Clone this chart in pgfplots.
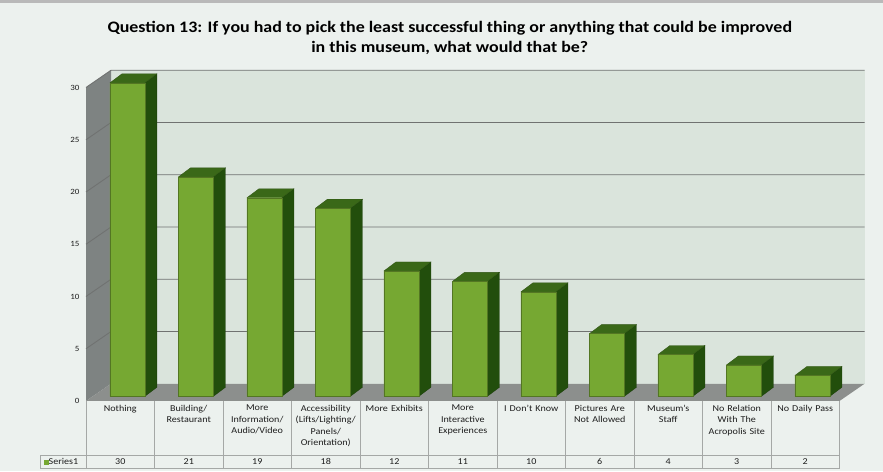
\documentclass[border=0pt]{standalone}
\usepackage{pgfplots}
\pgfplotsset{compat=1.18}
\usepackage{pgfplotstable}
\usepackage{fontspec}
\setmainfont{Carlito}[FakeStretch=1.12]
\definecolor{bg}{RGB}{236,241,238}
\definecolor{wall}{RGB}{218,228,220}
\definecolor{sidewall}{RGB}{126,131,130}
\definecolor{floorc}{RGB}{140,143,141}
\definecolor{gridc}{RGB}{112,114,113}
\definecolor{barfront}{RGB}{118,168,50}
\definecolor{bartop}{RGB}{58,104,24}
\definecolor{barside}{RGB}{34,78,12}
\definecolor{tablec}{RGB}{165,168,166}
\definecolor{txt}{RGB}{30,30,30}

\pgfplotstableread{
i v
0 30
1 21
2 19
3 18
4 12
5 11
6 10
7 6
8 4
9 3
10 2
}\datatable

\begin{document}
\begin{tikzpicture}
\begin{axis}[
  x=68.5pt, y=10.45pt,
  xmin=-0.5, xmax=10.5, ymin=0, ymax=30,
  clip=false,
  axis on top=true,
  axis line style={draw=none},
  tick style={draw=none},
  ytick={0,5,10,15,20,25,30},
  xtick={0,1,2,3,4,5,6,7,8,9,10},
  xticklabels={{Nothing},{Building/\\Restaurant},{More\\Information/\\Audio/Video},{Accessibility\\(Lifts/Lighting/\\Panels/\\Orientation)},{More Exhibits},{More\\Interactive\\Experiences},{I Don't Know},{Pictures Are\\Not Allowed},{Museum's\\Staff},{No Relation\\With The\\Acropolis Site},{No Daily Pass}},
  xticklabel style={text width=66pt, align=center, anchor=north, inner sep=0pt, yshift=-4pt, font=\fontsize{9}{11.3}\selectfont, text=txt},
  yticklabel style={font=\fontsize{8}{9}\selectfont, text=txt, xshift=-3pt},
  /pgf/number format/assume math mode=true,
]
% page background
\addplot[fill=bg, draw=none] coordinates {(-1.7555,-6.699) (11.135,-6.699) (11.135,38.373) (-1.7555,38.373)};
\addplot[fill=gray!55, draw=none] coordinates {(-1.7555,38.07) (11.135,38.07) (11.135,38.373) (-1.7555,38.373)};
% walls and floor
\addplot[fill=wall, draw=none] coordinates {(-0.135,1.65) (10.865,1.65) (10.865,31.65) (-0.135,31.65)};
\addplot[fill=sidewall, draw=none] coordinates {(-0.5,0) (-0.135,1.65) (-0.135,31.65) (-0.5,30)};
\addplot[fill=floorc, draw=none] coordinates {(-0.5,0) (10.5,0) (10.865,1.65) (-0.135,1.65)};
% gridlines
\pgfplotsinvokeforeach{5,10,15,20,25,30}{
  \pgfmathsetmacro\yb{#1+1.65}
  \edef\tmp{\noexpand\addplot[gridc, line width=0.9pt] coordinates {(-0.5,#1) (-0.135,\yb) (10.865,\yb)};}\tmp
}
% bars
\pgfplotsinvokeforeach{0,1,2,3,4,5,6,7,8,9,10}{
  \pgfplotstablegetelem{#1}{v}\of\datatable
  \let\val\pgfplotsretval
  \pgfmathsetmacro\xl{#1-0.15}
  \pgfmathsetmacro\xr{#1+0.36}
  \pgfmathsetmacro\xlb{#1-0.15+0.175}
  \pgfmathsetmacro\xrb{#1+0.36+0.175}
  \pgfmathsetmacro\yb{0.45}
  \pgfmathsetmacro\yt{\val+0.45}
  \pgfmathsetmacro\ybb{0.45+0.86}
  \pgfmathsetmacro\ytb{\val+0.45+0.86}
  \edef\tmp{%
    \noexpand\addplot[fill=barside, draw=barside!80!black, line width=0.3pt] coordinates {(\xr,\yb) (\xrb,\ybb) (\xrb,\ytb) (\xr,\yt) (\xr,\yb)};
    \noexpand\addplot[fill=bartop, draw=bartop!80!black, line width=0.3pt] coordinates {(\xl,\yt) (\xr,\yt) (\xrb,\ytb) (\xlb,\ytb) (\xl,\yt)};
    \noexpand\addplot[fill=barfront, draw=barfront!70!black, line width=0.3pt] coordinates {(\xl,\yb) (\xr,\yb) (\xr,\yt) (\xl,\yt) (\xl,\yb)};
    \noexpand\node[font=\noexpand\fontsize{9}{11}\noexpand\selectfont, text=txt] at (axis cs:#1,-5.79) {\val};
  }\tmp
}
% data table grid
\pgfplotsinvokeforeach{-0.5,0.5,1.5,2.5,3.5,4.5,5.5,6.5,7.5,8.5,9.5,10.5}{
  \addplot[tablec, line width=0.6pt] coordinates {(#1,0) (#1,-6.41)};
}
\addplot[tablec, line width=0.6pt] coordinates {(-1.17,-5.17) (10.5,-5.17)};
\addplot[tablec, line width=0.6pt] coordinates {(-1.17,-6.41) (10.5,-6.41)};
\addplot[tablec, line width=0.6pt] coordinates {(-1.17,-5.17) (-1.17,-6.41)};
\node[anchor=west, font=\fontsize{9}{11}\selectfont, text=txt, inner sep=0pt] at (axis cs:-1.12,-5.79) {\textcolor{barfront}{\rule{5pt}{5pt}}Series1};
% title
\node[align=center, font=\fontsize{16}{20}\selectfont\bfseries, text=black] at (axis cs:4.81,34.75) {Question 13: If you had to pick the least successful thing or anything that could be improved\\in this museum, what would that be?};
\end{axis}
\end{tikzpicture}
\end{document}
